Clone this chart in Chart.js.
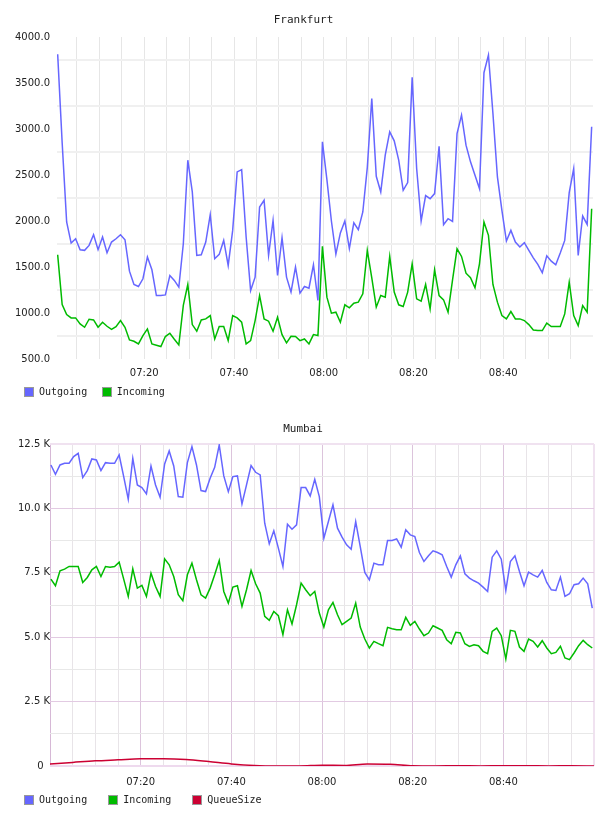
<!DOCTYPE html>
<html>
<head>
<meta charset="utf-8">
<script src="https://cdn.jsdelivr.net/npm/chart.js@4/dist/chart.umd.min.js"></script>
<style>
  body { margin: 0; background: #fff; }
  .box { position: relative; width: 608px; }
  .legend { position: absolute; left: 24px; display: flex; font: 10px 'DejaVu Sans Mono', monospace; color: #222; line-height: 10px; white-space: nowrap; }
  .legend .item { display: flex; align-items: center; }
  .legend i { display: block; width: 10px; height: 10px; box-sizing: border-box; border: 1px solid #999; margin-right: 5px; }
</style>
</head>
<body>
<div class="box" style="height:407px">
  <canvas id="frankfurtChart"></canvas>
  <div class="legend" id="frankfurtLegend" style="top:387px"></div>
</div>
<div class="box" style="height:409px">
  <canvas id="mumbaiChart"></canvas>
  <div class="legend" id="mumbaiLegend" style="top:388px"></div>
</div>
<script>
"use strict";

// minutes after 07:00, one sample per minute
var frankfurtStart = 0.7;
var mumbaiStart = 0.2;
var mumbaiStep = 1.0035;

var frankfurtOut = [
  3812, 2850, 1989, 1760, 1807, 1688, 1681, 1735, 1851, 1688,
  1826, 1655, 1771, 1807, 1851, 1796, 1455, 1310, 1288, 1372,
  1608, 1470, 1190, 1190, 1197, 1408, 1354, 1281, 1753, 2661,
  2316, 1626, 1633, 1771, 2069, 1590, 1637, 1789, 1517, 1898,
  2534, 2559, 1826, 1245, 1390, 2152, 2225, 1626, 2007, 1408,
  1818, 1390, 1227, 1499, 1216, 1288, 1270, 1524, 1136, 2860,
  2450, 2000, 1640, 1870, 2000, 1700, 1980, 1905, 2098, 2580,
  3332, 2486, 2316, 2715, 2969, 2871, 2661, 2334, 2417, 3561,
  2570, 2000, 2276, 2243, 2298, 2813, 1960, 2025, 1996, 2951,
  3151, 2824, 2643, 2497, 2352, 3612, 3804, 3169, 2479, 2116,
  1782, 1898, 1771, 1717, 1764, 1680, 1600, 1528, 1437, 1622,
  1564, 1524, 1651, 1789, 2308, 2570, 1626, 2054, 1963, 3024
];
var frankfurtIn = [
  1633, 1092, 983, 947, 947, 881, 845, 932, 925, 845,
  900, 856, 823, 852, 918, 845, 707, 693, 664, 755,
  827, 664, 649, 635, 744, 780, 715, 653, 1082, 1310,
  874, 802, 925, 936, 972, 718, 852, 852, 700, 972,
  947, 900, 664, 700, 918, 1190, 936, 911, 802, 954,
  765, 675, 747, 744, 700, 718, 664, 765, 755, 1724,
  1172, 998, 1009, 900, 1089, 1056, 1107, 1118, 1208, 1680,
  1383, 1063, 1190, 1172, 1615, 1227, 1089, 1070, 1227, 1535,
  1154, 1128, 1310, 1045, 1470, 1190, 1143, 1009, 1361, 1698,
  1615, 1433, 1383, 1274, 1535, 1989, 1844, 1310, 1118, 972,
  936, 1016, 936, 936, 918, 874, 816, 809, 809, 889,
  852, 852, 852, 990, 1335, 972, 863, 1081, 1009, 2134
];

var mumbaiOut = [
  11686, 11324, 11686, 11751, 11751, 12009, 12138, 11195, 11466, 11919,
  11880, 11466, 11776, 11751, 11751, 12074, 11234, 10355, 11944, 10911,
  10808, 10562, 11647, 10911, 10433, 11725, 12229, 11647, 10459, 10433,
  11776, 12397, 11686, 10691, 10652, 11169, 11596, 12461, 11260, 10652,
  11234, 11260, 10174, 10911, 11660, 11402, 11298, 9425, 8624, 9128,
  8456, 7746, 9386, 9192, 9360, 10808, 10808, 10485, 11130, 10459,
  8844, 9490, 10136, 9231, 8882, 8585, 8417, 9490, 8520, 7513,
  7229, 7875, 7810, 7810, 8753, 8753, 8818, 8495, 9167, 8973,
  8908, 8288, 7939, 8159, 8353, 8288, 8198, 7746, 7332, 7810,
  8159, 7461, 7293, 7190, 7099, 6944, 6776, 8107, 8353, 8030,
  6815, 7939, 8159, 7552, 6996, 7526, 7422, 7332, 7590, 7125,
  6841, 6815, 7332, 6583, 6686, 7035, 7074, 7293, 7074, 6131
];
var mumbaiIn = [
  7254, 6996, 7578, 7642, 7746, 7746, 7746, 7125, 7319, 7616,
  7746, 7358, 7746, 7720, 7746, 7913, 7254, 6583, 7655, 6906,
  7009, 6583, 7487, 6970, 6583, 8043, 7810, 7358, 6647, 6415,
  7422, 7875, 7229, 6647, 6518, 6906, 7422, 7978, 6776, 6324,
  6944, 6996, 6195, 6841, 7590, 7074, 6712, 5808, 5652, 6001,
  5833, 5097, 6066, 5511, 6260, 7099, 6841, 6609, 6776, 5937,
  5394, 6066, 6350, 5872, 5485, 5614, 5743, 6324, 5394, 4929,
  4580, 4838, 4748, 4670, 5381, 5330, 5291, 5291, 5769, 5459,
  5614, 5317, 5058, 5162, 5446, 5356, 5265, 4903, 4748, 5188,
  5162, 4748, 4645, 4709, 4670, 4451, 4360, 5226, 5356, 5058,
  4154, 5265, 5226, 4619, 4451, 4929, 4838, 4619, 4864, 4580,
  4360, 4412, 4645, 4192, 4128, 4386, 4670, 4877, 4709, 4580
];
var queueMinutes = [0, 5, 10, 15, 20, 25, 30, 35, 40, 45, 50, 55, 60, 65, 70, 75, 80, 85, 90, 95, 100, 105, 110, 115, 120];
var queueSize = [80, 140, 200, 240, 280, 280, 250, 170, 80, 20, 0, 0, 30, 20, 80, 70, 10, 0, 10, 0, 10, 10, 0, 10, 0];

var timeLabels = [20, 40, 60, 80, 100];
var frankfurtGrid = [5, 10, 15, 20, 25, 30, 35, 40, 45, 50, 55, 60, 65, 70, 75, 80, 85, 90, 95, 100, 105, 110, 115];
var mumbaiGrid = [0].concat(frankfurtGrid, [120]);
var frankfurtYTicks = [500, 750, 1000, 1250, 1500, 1750, 2000, 2250, 2500, 2750, 3000, 3250, 3500, 3750, 4000];
var mumbaiYTicks = [0, 1250, 2500, 3750, 5000, 6250, 7500, 8750, 10000, 11250, 12500];

Chart.defaults.font.family = "'DejaVu Sans', sans-serif";
Chart.defaults.font.size = 10;
Chart.defaults.color = "#222";

function pad2(n) {
  return (n < 10 ? "0" : "") + n;
}

function timeLabel(v) {
  if (timeLabels.indexOf(v) < 0) return "";
  return pad2(7 + Math.floor(v / 60)) + ":" + pad2(v % 60);
}

function toPoints(values, start, step) {
  return values.map(function (v, i) {
    return { x: start + i * step, y: v };
  });
}

function setTicks(list) {
  return function (scale) {
    scale.ticks = list.map(function (v) { return { value: v }; });
  };
}

function line(label, data, color) {
  return {
    label: label,
    data: data,
    borderColor: color,
    backgroundColor: color,
    borderWidth: 1.5,
    pointRadius: 0,
    tension: 0,
    fill: false
  };
}

// legend as html, built from the chart datasets
function htmlLegend(chart, id, gap) {
  var el = document.getElementById(id);
  chart.data.datasets.forEach(function (ds) {
    var item = document.createElement("span");
    item.className = "item";
    item.style.marginRight = gap + "px";
    var swatch = document.createElement("i");
    swatch.style.background = ds.borderColor;
    item.appendChild(swatch);
    item.appendChild(document.createTextNode(ds.label));
    el.appendChild(item);
  });
}

var titleFont = { family: "'DejaVu Sans Mono', monospace", size: 11, weight: "normal" };

var frankfurtChart = new Chart(document.getElementById("frankfurtChart"), {
  type: "line",
  data: {
    datasets: [
      line("Outgoing", toPoints(frankfurtOut, frankfurtStart, 1), "#6666ff"),
      line("Incoming", toPoints(frankfurtIn, frankfurtStart, 1), "#00bb00")
    ]
  },
  options: {
    animation: false,
    responsive: true,
    maintainAspectRatio: false,
    layout: { padding: { left: 14, right: 15, top: 0, bottom: 26 } },
    plugins: {
      title: { display: true, text: "Frankfurt", color: "#222", font: titleFont, padding: { top: 14, bottom: 9.8 } },
      legend: { display: false },
      tooltip: { enabled: false }
    },
    scales: {
      x: {
        type: "linear",
        min: 0.55,
        max: 120,
        afterBuildTicks: setTicks(frankfurtGrid),
        afterFit: function (s) { s.height = 22; },
        border: { display: false },
        grid: { color: "#e6e6e6", lineWidth: 1, drawTicks: false },
        ticks: { padding: 8, maxRotation: 0, autoSkip: false, callback: timeLabel }
      },
      y: {
        min: 500,
        max: 4000,
        afterBuildTicks: setTicks(frankfurtYTicks),
        afterFit: function (s) { s.width = 43; },
        border: { display: false },
        grid: {
          drawTicks: false,
          lineWidth: 2,
          color: function (ctx) {
            return ctx.tick && ctx.tick.value % 500 === 250 ? "#f0f0f0" : "rgba(0,0,0,0)";
          }
        },
        ticks: {
          padding: 7,
          callback: function (v) { return v % 500 === 0 ? v.toFixed(1) : ""; }
        }
      }
    }
  }
});

var mumbaiChart = new Chart(document.getElementById("mumbaiChart"), {
  type: "line",
  data: {
    datasets: [
      line("Outgoing", toPoints(mumbaiOut, mumbaiStart, mumbaiStep), "#6666ff"),
      line("Incoming", toPoints(mumbaiIn, mumbaiStart, mumbaiStep), "#00bb00"),
      Object.assign(line("QueueSize", queueMinutes.map(function (m, i) {
        return { x: m, y: queueSize[i] };
      }), "#cc0033"), { cubicInterpolationMode: "monotone" })
    ]
  },
  options: {
    animation: false,
    responsive: true,
    maintainAspectRatio: false,
    layout: { padding: { left: 12, right: 14, top: 0, bottom: 28 } },
    plugins: {
      title: { display: true, text: "Mumbai", color: "#222", font: titleFont, padding: { top: 15.2, bottom: 8.6 } },
      legend: { display: false },
      tooltip: { enabled: false }
    },
    scales: {
      x: {
        type: "linear",
        min: 0,
        max: 120,
        afterBuildTicks: setTicks(mumbaiGrid),
        afterFit: function (s) { s.height = 22; },
        border: { display: false },
        grid: {
          drawTicks: false,
          lineWidth: function (ctx) { return ctx.tick && ctx.tick.value === 120 ? 2 : 1; },
          color: function (ctx) {
            var v = ctx.tick ? ctx.tick.value : -1;
            if (v === 0) return "#d6b8d6";
            if (v === 120) return "#f0e2f0";
            if (v % 20 === 0) return "#dcc4dc";
            return "#e8e4e8";
          }
        },
        ticks: { padding: 10, maxRotation: 0, autoSkip: false, callback: timeLabel }
      },
      y: {
        min: 0,
        max: 12500,
        afterBuildTicks: setTicks(mumbaiYTicks),
        afterFit: function (s) { s.width = 38; },
        border: { display: false },
        grid: {
          drawTicks: false,
          lineWidth: function (ctx) {
            var v = ctx.tick ? ctx.tick.value : -1;
            return v === 0 || v === 12500 ? 2 : 1;
          },
          color: function (ctx) {
            var v = ctx.tick ? ctx.tick.value : -1;
            if (v === 12500) return "#f0e2f0";
            if (v === 0) return "#eedaee";
            if (v % 2500 === 0) return "#e2cae2";
            return "#e8e8e8";
          }
        },
        ticks: {
          padding: 0,
          callback: function (v) {
            if (v % 2500 !== 0) return "";
            return v === 0 ? "0  " : (v / 1000).toFixed(1) + " K";
          }
        }
      }
    }
  }
});

htmlLegend(frankfurtChart, "frankfurtLegend", 14.5);
htmlLegend(mumbaiChart, "mumbaiLegend", 21);
</script>
</body>
</html>
